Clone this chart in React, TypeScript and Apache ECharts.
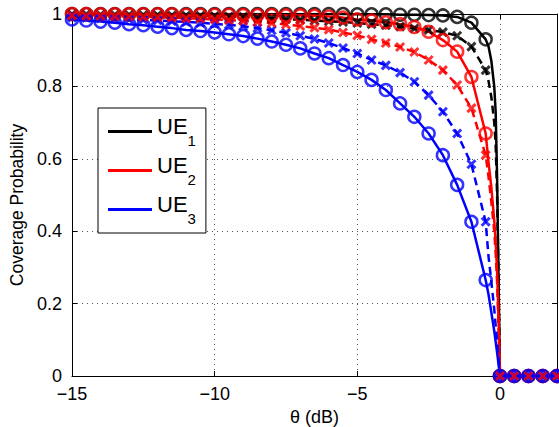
import React, { useEffect, useRef } from 'react';
import * as echarts from 'echarts';

// θ (dB) positions of the markers
const thetaMarks = [
  -15, -14.5, -14, -13.5, -13, -12.5, -12, -11.5, -11, -10.5, -10, -9.5, -9, -8.5, -8, -7.5,
  -7, -6.5, -6, -5.5, -5, -4.5, -4, -3.5, -3, -2.5, -2, -1.5, -1, -0.5, 0, 0.5, 1, 1.5, 2,
];
// extra θ points read between -0.5 dB and 0 dB, where curves fall steeply
const tailTheta = [-0.4, -0.3, -0.2, -0.15, -0.1, -0.05];

// UE1 (black)
const ue1Exact = [
  1, 1, 1, 1, 1, 1, 1, 1, 1, 1, 1, 1, 1, 1, 1, 1,
  1, 1, 1, 1, 0.999, 0.999, 0.999, 0.998, 0.998, 0.997, 0.996, 0.992, 0.976, 0.93, 0, 0, 0, 0, 0,
];
const ue1ExactTail = [0.91, 0.87, 0.8, 0.73, 0.55, 0.28];
const ue1Approx = [
  0.999, 0.999, 0.998, 0.998, 0.998, 0.997, 0.997, 0.996, 0.996, 0.995, 0.994, 0.993, 0.992, 0.99, 0.988, 0.986,
  0.984, 0.982, 0.98, 0.978, 0.975, 0.972, 0.969, 0.965, 0.96, 0.956, 0.95, 0.94, 0.91, 0.845, 0, 0, 0, 0, 0,
];
const ue1ApproxTail = [0.815, 0.77, 0.7, 0.64, 0.5, 0.26];

// UE2 (red)
const ue2Exact = [
  1, 1, 0.999, 0.999, 0.999, 0.999, 0.999, 0.999, 0.998, 0.998, 0.998, 0.998, 0.997, 0.997, 0.997, 0.996,
  0.996, 0.995, 0.993, 0.99, 0.985, 0.982, 0.977, 0.972, 0.964, 0.951, 0.928, 0.896, 0.826, 0.67, 0, 0, 0, 0, 0,
];
const ue2ExactTail = [0.59, 0.52, 0.43, 0.37, 0.29, 0.16];
const ue2Approx = [
  0.996, 0.995, 0.995, 0.994, 0.993, 0.992, 0.991, 0.99, 0.988, 0.987, 0.985, 0.983, 0.981, 0.978, 0.975, 0.971,
  0.967, 0.962, 0.957, 0.949, 0.941, 0.93, 0.92, 0.909, 0.895, 0.873, 0.845, 0.804, 0.74, 0.61, 0, 0, 0, 0, 0,
];
const ue2ApproxTail = [0.55, 0.48, 0.4, 0.34, 0.26, 0.14];

// UE3 (blue)
const ue3Exact = [
  0.985, 0.982, 0.979, 0.976, 0.972, 0.969, 0.965, 0.961, 0.956, 0.953, 0.949, 0.944, 0.939, 0.932, 0.924, 0.915,
  0.905, 0.891, 0.878, 0.859, 0.84, 0.818, 0.79, 0.753, 0.716, 0.67, 0.61, 0.528, 0.426, 0.265, 0, 0, 0, 0, 0,
];
const ue3ExactTail = [0.225, 0.175, 0.125, 0.095, 0.065, 0.033];
const ue3Approx = [
  0.99, 0.989, 0.988, 0.987, 0.985, 0.984, 0.982, 0.98, 0.978, 0.976, 0.973, 0.97, 0.966, 0.961, 0.955, 0.948,
  0.94, 0.931, 0.92, 0.906, 0.891, 0.873, 0.858, 0.838, 0.813, 0.776, 0.73, 0.67, 0.585, 0.426, 0, 0, 0, 0, 0,
];
const ue3ApproxTail = [0.33, 0.26, 0.185, 0.14, 0.1, 0.05];

const ueNames = ['UE1', 'UE2', 'UE3'];
const ueColors = ['#000000', '#ff0000', '#0000ff'];
const xTicks = { min: -15, max: 2, interval: 5 };
const yTicks = { min: 0, max: 1, interval: 0.2 };

const FONT = 'Liberation Sans, Arial, Helvetica, sans-serif';
const X_MARK = 'path://M0,0L10,10M10,0L0,10';

function markerData(vals: number[]) {
  return thetaMarks.map((x, i) => [x, vals[i]]);
}
function curveData(vals: number[], tail: number[]) {
  const out: number[][] = [];
  thetaMarks.forEach((x, i) => {
    if (x === 0) tailTheta.forEach((t, j) => out.push([t, tail[j]]));
    out.push([x, vals[i]]);
  });
  return out;
}

export default function App() {
  const ref = useRef<HTMLDivElement>(null);
  useEffect(() => {
    if (!ref.current) return;
    const chart = echarts.init(ref.current, undefined, { renderer: 'svg' });
    const exact = [ue1Exact, ue2Exact, ue3Exact];
    const exactTail = [ue1ExactTail, ue2ExactTail, ue3ExactTail];
    const approx = [ue1Approx, ue2Approx, ue3Approx];
    const approxTail = [ue1ApproxTail, ue2ApproxTail, ue3ApproxTail];

    const lineSeries: any[] = [];
    for (let k = 0; k < 3; k++) {
      lineSeries.push({
        name: ueNames[k],
        type: 'line',
        data: curveData(exact[k], exactTail[k]),
        showSymbol: false,
        symbol: 'none',
        color: ueColors[k],
        lineStyle: { color: ueColors[k], width: 2.5 },
        silent: true,
        z: 2,
      });
      lineSeries.push({
        name: ueNames[k] + ' approx',
        type: 'line',
        data: curveData(approx[k], approxTail[k]),
        showSymbol: false,
        symbol: 'none',
        color: ueColors[k],
        lineStyle: { color: ueColors[k], width: 2.5, type: [8, 5] },
        silent: true,
        z: 2,
      });
    }
    const circle = (k: number, filledZero: boolean) => ({
      name: ueNames[k] + ' sim',
      type: 'scatter',
      symbol: 'circle',
      symbolSize: 12,
      silent: true,
      z: 3,
      itemStyle: { color: 'rgba(0,0,0,0)', borderColor: ueColors[k], borderWidth: 2.5 },
      data: markerData(exact[k]).map((p) =>
        filledZero && p[1] === 0 ? { value: p, itemStyle: { color: ueColors[k] } } : p
      ),
    });
    const cross = (k: number) => ({
      name: ueNames[k] + ' approx sim',
      type: 'scatter',
      symbol: X_MARK,
      symbolSize: 8,
      silent: true,
      z: 3,
      itemStyle: { color: 'rgba(0,0,0,0)', borderColor: ueColors[k], borderWidth: 3 },
      data: markerData(approx[k]),
    });
    const markerSeries = [circle(0, false), cross(0), circle(1, false), cross(2), circle(2, true), cross(1)];

    const axisLabelStyle = { color: '#000', fontFamily: FONT, fontSize: 18 };
    const grid = {
      left: 72,
      right: 2,
      top: 14,
      bottom: 51,
      outerBoundsMode: 'none',
      containLabel: false,
    };

    chart.setOption({
      animation: false,
      backgroundColor: '#ffffff',
      grid,
      legend: {
        data: ueNames,
        orient: 'vertical',
        left: 98,
        top: 108,
        padding: [7, 10, 7, 10],
        itemGap: 6,
        itemWidth: 44,
        itemHeight: 3,
        icon: 'rect',
        borderColor: '#000',
        borderWidth: 1,
        backgroundColor: '#fff',
        selectedMode: false,
        formatter: (name: string) => `{u|UE}{s|${name.slice(2)}}`,
        textStyle: {
          color: '#000',
          fontFamily: FONT,
          rich: {
            u: { fontSize: 22, fontFamily: FONT, color: '#000', lineHeight: 33, verticalAlign: 'top' },
            s: { fontSize: 15, fontFamily: FONT, color: '#000', lineHeight: 33, verticalAlign: 'bottom' },
          },
        },
      },
      xAxis: [
        {
          type: 'value',
          ...xTicks,
          name: 'θ (dB)',
          nameLocation: 'middle',
          nameGap: 32,
          nameTextStyle: { color: '#000', fontFamily: FONT, fontSize: 18 },
          axisLine: { show: true, onZero: false, lineStyle: { color: '#000', width: 1 } },
          axisTick: { show: true, inside: true, length: 5, lineStyle: { color: '#000' } },
          axisLabel: {
            ...axisLabelStyle,
            margin: 9,
            showMaxLabel: false,
            formatter: (v: number) => (v < 0 ? '\u2212' + Math.abs(v) : String(v)),
          },
          splitLine: {
            show: true,
            showMinLine: false,
            showMaxLine: false,
            lineStyle: { color: '#555', width: 1, type: [1, 4] },
          },
        },
        {
          type: 'value',
          ...xTicks,
          position: 'top',
          axisLine: { show: true, onZero: false, lineStyle: { color: '#000', width: 1 } },
          axisTick: { show: true, inside: true, length: 5, lineStyle: { color: '#000' } },
          axisLabel: { show: false },
          splitLine: { show: false },
        },
      ],
      yAxis: [
        {
          type: 'value',
          ...yTicks,
          name: 'Coverage Probability',
          nameLocation: 'middle',
          nameGap: 38,
          nameTextStyle: { color: '#000', fontFamily: FONT, fontSize: 17.5, padding: [0, 20, 0, 0] },
          axisLine: { show: true, onZero: false, lineStyle: { color: '#000', width: 1 } },
          axisTick: { show: true, inside: true, length: 5, lineStyle: { color: '#000' } },
          axisLabel: { ...axisLabelStyle, margin: 10 },
          splitLine: {
            show: true,
            showMinLine: false,
            showMaxLine: false,
            lineStyle: { color: '#555', width: 1, type: [1, 4] },
          },
        },
        {
          type: 'value',
          ...yTicks,
          position: 'right',
          axisLine: { show: true, onZero: false, lineStyle: { color: '#000', width: 1 } },
          axisTick: { show: true, inside: true, length: 5, lineStyle: { color: '#000' } },
          axisLabel: { show: false },
          splitLine: { show: false },
        },
      ],
      series: [...lineSeries, ...markerSeries],
    });
    return () => chart.dispose();
  }, []);
  return (
    <div
      ref={ref}
      style={{ position: 'fixed', left: 0, top: 0, width: 559, height: 427, background: '#fff' }}
    />
  );
}
